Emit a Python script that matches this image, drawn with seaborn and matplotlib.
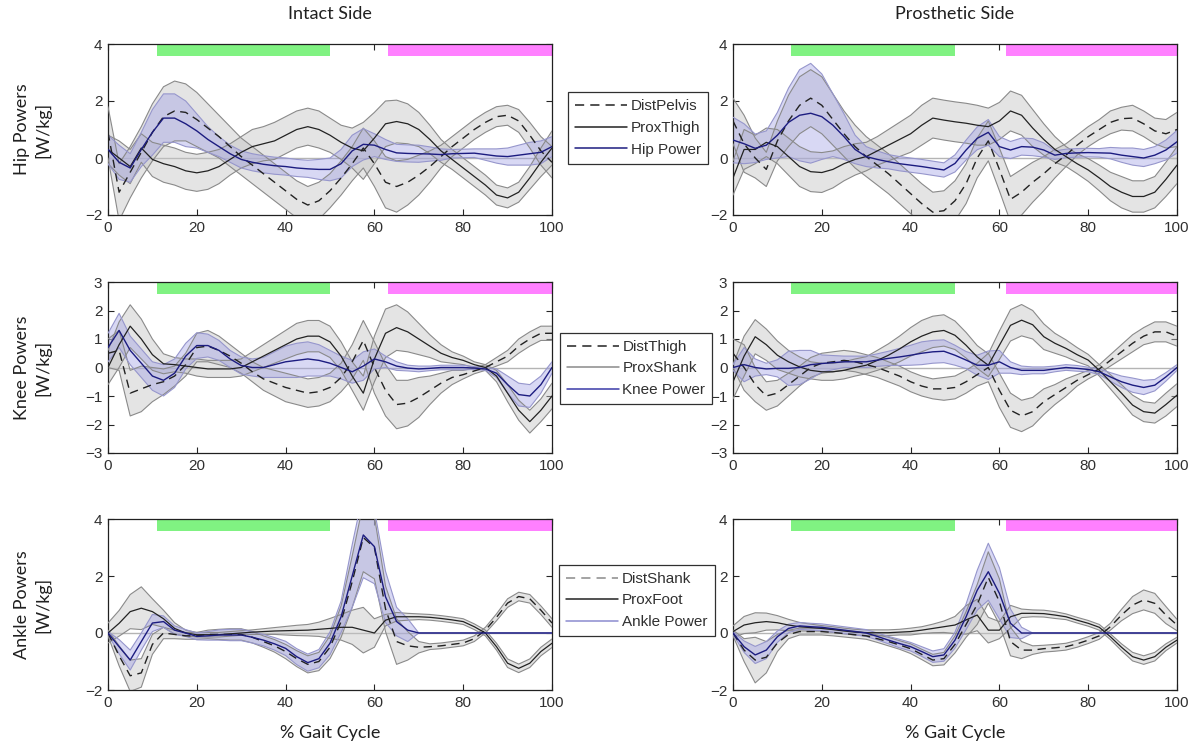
import numpy as np
import matplotlib
matplotlib.use('Agg')
import matplotlib.pyplot as plt
import seaborn as sns
from matplotlib.lines import Line2D

# % gait cycle sample positions
gait = np.linspace(0, 100, 41)

# ---------------- Hip, intact side ----------------
hip_int_dist = [0.9,-1.2,-0.5,0.2,0.9,1.45,1.65,1.6,1.35,1.05, 0.75,0.4,0.05,-0.25,-0.55,-0.85,-1.15,-1.45,-1.65,-1.5,
                -1.15,-0.7,-0.2,0.35,-0.2,-0.85,-1.0,-0.85,-0.6,-0.3, 0.05,0.4,0.7,1.0,1.25,1.45,1.5,1.3,0.8,0.25, -0.15]
hip_int_dist_sd = [0.9,1.0,0.9,0.9,1.0,1.05,1.05,1.0,0.95,0.85, 0.75,0.7,0.65,0.65,0.65,0.65,0.65,0.65,0.65,0.65,
                   0.6,0.6,0.6,0.7,0.8,0.9,0.9,0.8,0.7,0.55, 0.4,0.35,0.35,0.35,0.35,0.35,0.35,0.4,0.45,0.5, 0.55]
hip_int_prox = [0.3,0.0,-0.3,0.35,-0.05,-0.2,-0.3,-0.45,-0.52,-0.45, -0.3,-0.05,0.2,0.4,0.5,0.6,0.8,1.0,1.1,1.0,
                0.8,0.55,0.35,0.25,0.7,1.2,1.28,1.2,1.0,0.65, 0.25,-0.05,-0.35,-0.65,-0.95,-1.3,-1.4,-1.2,-0.7,-0.15, 0.35]
hip_int_prox_sd = [0.5,0.6,0.6,0.5,0.6,0.65,0.65,0.65,0.65,0.65, 0.6,0.55,0.55,0.6,0.6,0.65,0.65,0.65,0.65,0.65,
                   0.6,0.6,0.7,1.0,0.9,0.8,0.75,0.7,0.6,0.5, 0.4,0.35,0.35,0.35,0.35,0.35,0.35,0.35,0.4,0.5, 0.6]
hip_int_pow = [0.3,-0.15,-0.35,0.3,0.9,1.4,1.4,1.2,0.95,0.65, 0.4,0.15,-0.05,-0.15,-0.22,-0.27,-0.3,-0.35,-0.38,-0.4,
               -0.4,-0.2,0.25,0.48,0.45,0.3,0.18,0.16,0.15,0.14, 0.12,0.15,0.16,0.17,0.12,0.07,0.05,0.1,0.15,0.2, 0.4]
hip_int_pow_sd = [0.5,0.6,0.5,0.6,0.8,0.85,0.85,0.8,0.6,0.45, 0.35,0.3,0.3,0.3,0.3,0.3,0.3,0.3,0.3,0.35,
                  0.4,0.5,0.55,0.55,0.4,0.35,0.3,0.3,0.3,0.25, 0.2,0.15,0.15,0.15,0.2,0.25,0.3,0.35,0.4,0.4, 0.35]

# ---------------- Hip, prosthetic side ----------------
hip_pro_dist = [1.3,0.5,0.0,-0.4,0.6,1.3,1.85,2.1,1.85,1.35, 0.85,0.4,0.05,-0.25,-0.55,-0.9,-1.25,-1.6,-1.9,-1.85,
                -1.5,-0.9,0.0,0.6,-0.4,-1.45,-1.2,-0.85,-0.55,-0.2, 0.1,0.45,0.75,1.0,1.25,1.38,1.4,1.2,0.95,0.85, 1.0]
hip_pro_dist_sd = [0.8,1.0,0.7,0.6,0.7,0.9,1.0,1.0,1.0,0.9, 0.8,0.75,0.7,0.7,0.7,0.7,0.7,0.7,0.7,0.7,
                   0.7,0.7,0.7,0.7,0.75,0.8,0.8,0.7,0.6,0.5, 0.4,0.35,0.35,0.35,0.4,0.4,0.45,0.45,0.45,0.5, 0.6]
hip_pro_prox = [-0.7,0.3,0.3,0.55,0.4,0.05,-0.3,-0.48,-0.51,-0.4, -0.2,-0.05,0.05,0.25,0.45,0.65,0.85,1.15,1.4,1.33,
                1.27,1.22,1.15,1.1,1.3,1.65,1.5,1.05,0.65,0.3, 0.05,-0.2,-0.42,-0.7,-1.0,-1.2,-1.35,-1.35,-1.2,-0.75, -0.25]
hip_pro_prox_sd = [0.6,0.7,0.5,0.5,0.6,0.65,0.7,0.7,0.7,0.65, 0.6,0.55,0.5,0.5,0.55,0.6,0.65,0.7,0.7,0.7,
                   0.7,0.7,0.7,0.65,0.65,0.7,0.7,0.65,0.55,0.45, 0.35,0.35,0.4,0.45,0.5,0.55,0.55,0.55,0.55,0.6, 0.65]
hip_pro_pow = [0.63,0.5,0.34,0.45,0.8,1.25,1.5,1.57,1.45,1.15, 0.75,0.3,0.05,-0.05,-0.13,-0.2,-0.25,-0.3,-0.36,-0.42,
               -0.19,0.28,0.69,0.9,0.4,0.28,0.4,0.38,0.28,0.1, 0.16,0.18,0.19,0.18,0.17,0.1,0.05,0.0,0.1,0.28, 0.57]
hip_pro_pow_sd = [0.8,0.7,0.5,0.5,0.8,1.2,1.6,1.75,1.5,1.1, 0.8,0.5,0.35,0.3,0.25,0.25,0.25,0.25,0.25,0.25,
                  0.3,0.35,0.4,0.45,0.35,0.3,0.3,0.3,0.25,0.15, 0.15,0.15,0.15,0.15,0.2,0.25,0.3,0.3,0.3,0.35, 0.4]

# ---------------- Knee, intact side ----------------
knee_int_dist = [0.5,0.6,-0.9,-0.75,-0.6,-0.5,-0.3,0.1,0.7,0.75, 0.6,0.4,0.15,-0.15,-0.4,-0.55,-0.7,-0.8,-0.9,-0.85,
                 -0.7,-0.35,0.2,0.95,0.0,-0.8,-1.3,-1.25,-1.05,-0.8, -0.55,-0.35,-0.25,-0.12,0.0,0.2,0.4,0.75,1.0,1.2, 1.2]
knee_int_dist_sd = [0.5,0.7,0.8,0.8,0.6,0.45,0.35,0.4,0.5,0.55, 0.5,0.4,0.35,0.35,0.4,0.45,0.5,0.5,0.5,0.5,
                    0.5,0.5,0.6,0.7,0.9,0.9,0.85,0.8,0.7,0.5, 0.35,0.25,0.15,0.1,0.1,0.15,0.2,0.25,0.25,0.25, 0.25]
knee_int_prox = [0.0,0.8,1.45,1.0,0.45,0.13,0.1,0.05,0.0,-0.05, -0.05,-0.05,0.0,0.2,0.4,0.6,0.8,1.0,1.1,1.1,
                 0.9,0.4,-0.3,-0.9,0.3,1.2,1.4,1.25,1.0,0.75, 0.5,0.35,0.25,0.1,0.0,-0.3,-0.9,-1.5,-1.9,-1.5, -1.0]
knee_int_prox_sd = [0.6,0.8,0.75,0.7,0.55,0.35,0.25,0.25,0.3,0.3, 0.3,0.3,0.3,0.35,0.4,0.45,0.5,0.55,0.55,0.55,
                    0.55,0.5,0.5,0.6,0.8,0.85,0.8,0.7,0.55,0.4, 0.3,0.2,0.15,0.1,0.1,0.2,0.3,0.35,0.4,0.4, 0.45]
knee_int_pow = [0.7,1.3,0.6,0.15,-0.3,-0.45,-0.2,0.4,0.77,0.77, 0.6,0.3,0.07,0.0,0.0,0.1,0.2,0.25,0.3,0.25,
                0.15,0.0,-0.15,0.05,0.3,0.2,0.05,-0.02,-0.05,-0.03, 0.0,0.0,0.0,-0.02,-0.05,-0.2,-0.6,-0.95,-1.0,-0.6, 0.0]
knee_int_pow_sd = [0.5,0.6,0.5,0.5,0.5,0.55,0.5,0.45,0.45,0.4, 0.35,0.3,0.3,0.3,0.35,0.45,0.55,0.6,0.6,0.55,
                   0.45,0.4,0.4,0.5,0.35,0.2,0.15,0.1,0.1,0.08, 0.08,0.08,0.08,0.05,0.05,0.15,0.3,0.4,0.4,0.3, 0.2]

# ---------------- Knee, prosthetic side ----------------
knee_pro_dist = [0.5,0.0,-0.6,-1.0,-0.9,-0.6,-0.3,0.0,0.15,0.2, 0.25,0.2,0.1,0.0,-0.15,-0.3,-0.5,-0.65,-0.75,-0.75,
                 -0.7,-0.5,-0.25,0.0,-0.8,-1.5,-1.7,-1.55,-1.2,-0.95, -0.7,-0.45,-0.25,-0.05,0.25,0.55,0.85,1.1,1.25,1.25, 1.1]
knee_pro_dist_sd = [0.5,0.8,0.6,0.5,0.45,0.4,0.35,0.35,0.35,0.35, 0.35,0.35,0.35,0.35,0.35,0.35,0.35,0.35,0.35,0.4,
                    0.4,0.4,0.4,0.5,0.6,0.6,0.55,0.5,0.45,0.35, 0.3,0.2,0.15,0.15,0.2,0.25,0.3,0.3,0.35,0.35, 0.35]
knee_pro_prox = [-0.5,0.4,1.08,0.8,0.43,0.2,0.02,-0.1,-0.15,-0.15, -0.1,0.0,0.08,0.25,0.43,0.65,0.9,1.1,1.25,1.3,
                 1.13,0.78,0.37,0.08,0.78,1.48,1.66,1.5,1.08,0.85, 0.67,0.45,0.26,-0.1,-0.5,-0.9,-1.32,-1.55,-1.6,-1.3, -0.97]
knee_pro_prox_sd = [0.6,0.7,0.6,0.55,0.5,0.4,0.35,0.3,0.3,0.3, 0.3,0.3,0.3,0.35,0.4,0.45,0.5,0.55,0.55,0.55,
                    0.5,0.45,0.4,0.4,0.5,0.55,0.55,0.5,0.45,0.35, 0.3,0.25,0.2,0.2,0.25,0.3,0.35,0.35,0.35,0.4, 0.4]
knee_pro_pow = [0.0,0.1,0.0,-0.05,-0.03,-0.03,0.0,0.1,0.14,0.17, 0.2,0.2,0.2,0.26,0.32,0.37,0.43,0.5,0.55,0.57,
                0.43,0.26,0.08,0.08,0.2,0.0,-0.1,-0.1,-0.1,-0.05, 0.0,-0.03,-0.07,-0.15,-0.33,-0.5,-0.62,-0.7,-0.62,-0.33, 0.0]
knee_pro_pow_sd = [0.1,0.6,0.3,0.2,0.3,0.6,0.6,0.5,0.3,0.25, 0.2,0.2,0.2,0.22,0.25,0.3,0.35,0.4,0.4,0.4,
                   0.35,0.3,0.35,0.5,0.4,0.2,0.15,0.12,0.12,0.1, 0.1,0.1,0.08,0.1,0.15,0.2,0.25,0.25,0.2,0.15, 0.1]

# ---------------- Ankle, intact side ----------------
ank_int_dist = [0.0,-0.8,-1.5,-1.4,-0.4,0.0,-0.05,-0.1,-0.1,-0.05, -0.05,-0.05,-0.05,-0.15,-0.3,-0.45,-0.65,-0.9,-1.1,-1.0,
                -0.5,0.4,1.8,3.35,3.0,0.85,-0.3,-0.45,-0.5,-0.48, -0.45,-0.4,-0.35,-0.2,0.1,0.55,1.05,1.28,1.2,0.8, 0.35]
ank_int_dist_sd = [0.1,0.35,0.55,0.5,0.35,0.2,0.15,0.12,0.12,0.15, 0.18,0.2,0.2,0.2,0.2,0.22,0.25,0.28,0.3,0.32,
                   0.4,0.55,0.9,1.2,1.1,0.8,0.8,0.5,0.2,0.1, 0.1,0.1,0.1,0.1,0.1,0.12,0.15,0.15,0.15,0.15, 0.15]
ank_int_prox = [0.0,0.34,0.75,0.87,0.75,0.5,0.16,0.0,-0.06,-0.06, -0.06,-0.03,0.0,0.03,0.05,0.07,0.08,0.09,0.1,0.13,
                0.16,0.2,0.2,0.1,0.0,0.45,0.57,0.57,0.57,0.55, 0.51,0.46,0.4,0.22,0.0,-0.48,-1.06,-1.24,-1.06,-0.65, -0.36]
ank_int_prox_sd = [0.35,0.45,0.6,0.75,0.45,0.3,0.2,0.1,0.08,0.08, 0.08,0.08,0.08,0.08,0.1,0.12,0.15,0.18,0.2,0.25,
                   0.35,0.45,0.6,0.8,0.5,0.2,0.15,0.12,0.1,0.1, 0.1,0.1,0.1,0.1,0.1,0.12,0.15,0.15,0.15,0.15, 0.15]
ank_int_pow = [0.0,-0.48,-0.95,-0.3,0.35,0.4,0.1,0.0,-0.12,-0.1, -0.07,-0.07,-0.07,-0.15,-0.25,-0.38,-0.54,-0.83,-1.04,-0.9,
               -0.36,0.57,2.0,3.44,3.03,1.27,0.4,0.1,0.0,0.0, 0.0,0.0,0.0,0.0,0.0,0.0,0.0,0.0,0.0,0.0, 0.0]
ank_int_pow_sd = [0.05,0.25,0.35,0.3,0.3,0.2,0.15,0.12,0.12,0.15, 0.18,0.2,0.2,0.2,0.2,0.22,0.25,0.28,0.3,0.32,
                  0.4,0.55,1.1,1.5,1.3,0.9,0.5,0.4,0.0,0.0, 0.0,0.0,0.0,0.0,0.0,0.0,0.0,0.0,0.0,0.0, 0.0]

# ---------------- Ankle, prosthetic side ----------------
ank_pro_dist = [0.0,-0.6,-0.95,-0.85,-0.35,-0.05,0.05,0.05,0.05,0.02, -0.02,-0.06,-0.1,-0.2,-0.3,-0.42,-0.55,-0.75,-0.95,-0.9,
                -0.4,0.3,1.0,1.95,1.1,-0.3,-0.6,-0.6,-0.55,-0.52, -0.48,-0.38,-0.25,-0.1,0.22,0.63,0.98,1.16,1.04,0.63, 0.28]
ank_pro_dist_sd = [0.1,0.4,0.8,0.55,0.3,0.15,0.12,0.12,0.12,0.12, 0.12,0.12,0.12,0.13,0.15,0.15,0.17,0.18,0.2,0.22,
                   0.3,0.45,0.7,0.9,0.8,0.5,0.3,0.15,0.12,0.12, 0.12,0.12,0.12,0.12,0.12,0.2,0.3,0.35,0.35,0.3, 0.2]
ank_pro_prox = [0.05,0.28,0.36,0.4,0.36,0.28,0.22,0.19,0.16,0.12, 0.07,0.03,0.01,0.01,0.01,0.03,0.05,0.1,0.16,0.22,
                0.28,0.46,0.63,0.1,0.1,0.57,0.69,0.69,0.68,0.63, 0.57,0.45,0.34,0.2,-0.13,-0.5,-0.83,-0.95,-0.83,-0.5, -0.25]
ank_pro_prox_sd = [0.2,0.3,0.35,0.3,0.25,0.2,0.15,0.12,0.1,0.1, 0.1,0.1,0.1,0.1,0.1,0.1,0.12,0.12,0.15,0.2,
                   0.3,0.5,0.55,0.45,0.3,0.4,0.15,0.12,0.12,0.12, 0.1,0.1,0.1,0.1,0.1,0.12,0.15,0.15,0.15,0.12, 0.1]
ank_pro_pow = [0.0,-0.48,-0.77,-0.6,-0.13,0.16,0.25,0.22,0.2,0.15, 0.1,0.05,0.0,-0.12,-0.25,-0.37,-0.48,-0.65,-0.83,-0.77,
               -0.25,0.57,1.5,2.15,1.39,0.34,0.0,0.0,0.0,0.0, 0.0,0.0,0.0,0.0,0.0,0.0,0.0,0.0,0.0,0.0, 0.0]
ank_pro_pow_sd = [0.05,0.2,0.3,0.3,0.2,0.15,0.12,0.12,0.12,0.12, 0.12,0.12,0.12,0.12,0.13,0.15,0.15,0.17,0.2,0.22,
                  0.28,0.45,0.7,1.0,0.9,0.5,0.2,0.0,0.0,0.0, 0.0,0.0,0.0,0.0,0.0,0.0,0.0,0.0,0.0,0.0, 0.0]

# phase bars (start, end in % gait cycle)
stance_bar_intact = [11, 50]
swing_bar_intact = [63, 100]
stance_bar_prosth = [13, 50]
swing_bar_prosth = [61.5, 100]

column_titles = ["Intact Side", "Prosthetic Side"]
row_labels = ["Hip Powers\n[W/kg]", "Knee Powers\n[W/kg]", "Ankle Powers\n[W/kg]"]
legend_labels = [["DistPelvis", "ProxThigh", "Hip Power"],
                 ["DistThigh", "ProxShank", "Knee Power"],
                 ["DistShank", "ProxFoot", "Ankle Power"]]
row_ylims = [(-2, 4), (-3, 3), (-2, 4)]
row_yticks = [[-2, 0, 2, 4], [-3, -2, -1, 0, 1, 2, 3], [-2, 0, 2, 4]]
x_ticks = [0, 20, 40, 60, 80, 100]
x_label = "% Gait Cycle"

# ---------------- styling ----------------
sns.set_style("ticks")
plt.rcParams['font.family'] = ['Liberation Sans', 'DejaVu Sans']

W, H = 1195, 747
fig = plt.figure(figsize=(W / 100, H / 100), dpi=100)

col_x = [108 / W, 733 / W]
ax_w = 444 / W
row_bottom = [1 - 215 / H, 1 - 453 / H, 1 - 690 / H]
ax_h = 171 / H

GRAY_FILL = '#c4c4c4'
GRAY_EDGE = '#8a8a8a'
BLUE_FILL = '#9a9ae4'
BLUE_EDGE = '#9696cc'
NAVY = '#1c1c80'
GREEN = '#80f282'
PINK = '#ff80ff'
DASH = (0, (6, 4))

panels = [
    (0, 0, hip_int_dist, hip_int_dist_sd, hip_int_prox, hip_int_prox_sd, hip_int_pow, hip_int_pow_sd),
    (0, 1, hip_pro_dist, hip_pro_dist_sd, hip_pro_prox, hip_pro_prox_sd, hip_pro_pow, hip_pro_pow_sd),
    (1, 0, knee_int_dist, knee_int_dist_sd, knee_int_prox, knee_int_prox_sd, knee_int_pow, knee_int_pow_sd),
    (1, 1, knee_pro_dist, knee_pro_dist_sd, knee_pro_prox, knee_pro_prox_sd, knee_pro_pow, knee_pro_pow_sd),
    (2, 0, ank_int_dist, ank_int_dist_sd, ank_int_prox, ank_int_prox_sd, ank_int_pow, ank_int_pow_sd),
    (2, 1, ank_pro_dist, ank_pro_dist_sd, ank_pro_prox, ank_pro_prox_sd, ank_pro_pow, ank_pro_pow_sd),
]


def draw_band(ax, mean, sd, fill, edge, alpha):
    mean = np.asarray(mean, dtype=float)
    sd = np.asarray(sd, dtype=float)
    lo, hi = mean - sd, mean + sd
    ax.fill_between(gait, lo, hi, facecolor=fill, alpha=alpha, edgecolor='none', zorder=2)
    sns.lineplot(x=gait, y=lo, ax=ax, color=edge, lw=0.8, zorder=3, errorbar=None)
    sns.lineplot(x=gait, y=hi, ax=ax, color=edge, lw=0.8, zorder=3, errorbar=None)


for (r, c, dist, dist_sd, prox, prox_sd, pw, pw_sd) in panels:
    ax = fig.add_axes([col_x[c], row_bottom[r], ax_w, ax_h])
    ax.set_xlim(0, 100)
    ax.set_ylim(*row_ylims[r])
    ax.axhline(0, color='#b4b4b4', lw=1.0, zorder=1)

    bars = (stance_bar_intact, swing_bar_intact) if c == 0 else (stance_bar_prosth, swing_bar_prosth)
    ax.axvspan(bars[0][0], bars[0][1], ymin=0.93, ymax=1.0, color=GREEN, lw=0, zorder=1)
    ax.axvspan(bars[1][0], bars[1][1], ymin=0.93, ymax=1.0, color=PINK, lw=0, zorder=1)

    draw_band(ax, dist, dist_sd, GRAY_FILL, GRAY_EDGE, 0.45)
    draw_band(ax, prox, prox_sd, GRAY_FILL, GRAY_EDGE, 0.45)
    draw_band(ax, pw, pw_sd, BLUE_FILL, BLUE_EDGE, 0.38)

    sns.lineplot(x=gait, y=dist, ax=ax, color='#222222', lw=1.0, linestyle=DASH, zorder=5, errorbar=None)
    sns.lineplot(x=gait, y=prox, ax=ax, color='#222222', lw=0.9, zorder=5, errorbar=None)
    sns.lineplot(x=gait, y=pw, ax=ax, color=NAVY, lw=1.0, zorder=6, errorbar=None)

    ax.set_xticks(x_ticks)
    ax.set_yticks(row_yticks[r])
    ax.tick_params(direction='in', top=True, right=True, length=4, width=0.8,
                   labelsize=11, labelcolor='#303030', pad=4)
    for s in ax.spines.values():
        s.set_color('#202020')
        s.set_linewidth(0.9)
    ax.set_xlabel('')
    ax.set_ylabel('')

# column titles, row labels, x labels
title_font = dict(family=['Lato', 'DejaVu Sans'], fontsize=13, color='#202020')
fig.text(330 / W, 1 - 14 / H, column_titles[0], ha='center', va='center', **title_font)
fig.text(955 / W, 1 - 14 / H, column_titles[1], ha='center', va='center', **title_font)
fig.text(330 / W, 1 - 733 / H, x_label, ha='center', va='center', **title_font)
fig.text(955 / W, 1 - 733 / H, x_label, ha='center', va='center', **title_font)
for r, lab in enumerate(row_labels):
    yc = row_bottom[r] + ax_h / 2
    fig.text(33 / W, yc, lab, rotation=90, ha='center', va='center',
             linespacing=1.3, **title_font)

# legends
legend_styles = [
    [('#222222', DASH), ('#222222', '-'), (NAVY, '-')],
    [('#222222', DASH), ('#8a8a8a', '-'), ('#3a3aa8', '-')],
    [('#8a8a8a', DASH), ('#222222', '-'), ('#8c8cd0', '-')],
]
legend_centers = [(638 / W, 1 - 128 / H), (636 / W, 1 - 368.5 / H), (637 / W, 1 - 600.5 / H)]
for r in range(3):
    handles = [Line2D([0], [0], color=col, lw=1.1, linestyle=ls) for col, ls in legend_styles[r]]
    leg = fig.legend(handles, legend_labels[r], loc='center', bbox_to_anchor=legend_centers[r],
                     fontsize=11, frameon=True, fancybox=False, framealpha=1, edgecolor='#303030',
                     handlelength=3.4, handletextpad=0.25, labelspacing=0.5, borderpad=0.45,
                     borderaxespad=0)
    leg.get_frame().set_linewidth(0.9)
    for t in leg.get_texts():
        t.set_color('#303030')

fig.savefig('out.png', dpi=100)
